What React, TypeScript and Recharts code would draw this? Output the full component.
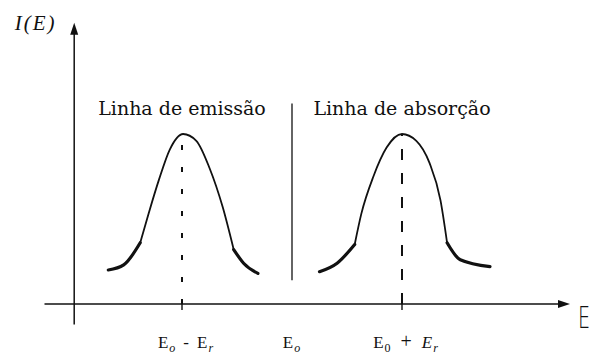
import React from "react";
import {
  ComposedChart,
  Line,
  XAxis,
  YAxis,
  ReferenceLine,
  ReferenceDot,
} from "recharts";

// Energy is measured in units of the recoil energy Er, centred on Eo.
// Intensity is normalised so both line peaks reach 1.

const emissionTailLeft = [
  { e: -1.67, i: 0.2 },
  { e: -1.53, i: 0.23 },
  { e: -1.38, i: 0.36 },
];
const emissionBody = [
  { e: -1.38, i: 0.36 },
  { e: -1.3, i: 0.54 },
  { e: -1.21, i: 0.73 },
  { e: -1.11, i: 0.91 },
  { e: -0.99, i: 1.0 },
  { e: -0.87, i: 0.96 },
  { e: -0.75, i: 0.8 },
  { e: -0.63, i: 0.57 },
  { e: -0.53, i: 0.32 },
];
const emissionTailRight = [
  { e: -0.53, i: 0.32 },
  { e: -0.44, i: 0.24 },
  { e: -0.31, i: 0.18 },
];

const absorptionTailLeft = [
  { e: 0.25, i: 0.19 },
  { e: 0.41, i: 0.24 },
  { e: 0.57, i: 0.35 },
];
const absorptionBody = [
  { e: 0.57, i: 0.35 },
  { e: 0.63, i: 0.53 },
  { e: 0.74, i: 0.75 },
  { e: 0.86, i: 0.92 },
  { e: 1.0, i: 1.0 },
  { e: 1.13, i: 0.96 },
  { e: 1.25, i: 0.83 },
  { e: 1.35, i: 0.61 },
  { e: 1.41, i: 0.36 },
];
const absorptionTailRight = [
  { e: 1.41, i: 0.36 },
  { e: 1.53, i: 0.26 },
  { e: 1.8, i: 0.22 },
];

const energyTicks = [-1, 0, 1];
const lineCentres = [-1, 1];
const lineTitles = ["Linha de emissão", "Linha de absorção"];

const INK = "#111";

const TickLabel = ({ x, y, payload }: any) => {
  const v = payload.value;
  const sub = { fontSize: 12, dy: 4 };
  return (
    <g>
      {v !== 0 && <line x1={x} x2={x} y1={y - 5} y2={y + 6} stroke={INK} strokeWidth={1.4} />}
      <text
        x={x + (v === 0 ? 0 : 4)}
        y={y + 44}
        textAnchor="middle"
        fill={INK}
        fontFamily="Liberation Serif"
        fontSize={17}
        letterSpacing={1}
      >
        {v === -1 && (
          <>
            E<tspan {...sub} fontStyle="italic">o</tspan>
            <tspan dx={7} dy={-4}>-</tspan>
            <tspan dx={7}>E</tspan>
            <tspan {...sub} fontStyle="italic">r</tspan>
          </>
        )}
        {v === 0 && (
          <>
            E<tspan {...sub} fontStyle="italic">o</tspan>
          </>
        )}
        {v === 1 && (
          <>
            E<tspan {...sub}>0</tspan>
            <tspan dx={9} dy={-4} fontSize={20}>+</tspan>
            <tspan dx={9} fontStyle="italic">E</tspan>
            <tspan {...sub} fontStyle="italic">r</tspan>
          </>
        )}
      </text>
    </g>
  );
};

const ArrowRight = ({ cx, cy }: any) => (
  <path d={`M${cx + 3},${cy} L${cx - 9},${cy - 4} L${cx - 9},${cy + 4} Z`} fill={INK} />
);
const ArrowUp = ({ cx, cy }: any) => (
  <path d={`M${cx},${cy} L${cx - 4},${cy + 12} L${cx + 4},${cy + 12} Z`} fill={INK} />
);

const textShape =
  (content: string, attrs: any) =>
  ({ cx, cy }: any) =>
    (
      <text x={cx} y={cy} fill={INK} {...attrs}>
        {content}
      </text>
    );

// hand-lettered axis name, squeezed horizontally
const AxisName = ({ cx, cy }: any) => (
  <g transform={`translate(${cx},${cy}) scale(0.62,1)`}>
    <text x={0} y={0} fill={INK} fontFamily="DejaVu Sans" fontSize={31} fontWeight={300}>
      E
    </text>
  </g>
);

const curve = (data: any[], width: number, key: string) => (
  <Line
    key={key}
    data={data}
    dataKey="i"
    type="monotone"
    stroke={INK}
    strokeWidth={width}
    strokeLinecap="round"
    dot={false}
    activeDot={false}
    isAnimationActive={false}
  />
);

export default function App() {
  return (
    <div style={{ position: "absolute", left: 0, top: 0, background: "#fff" }}>
      <ComposedChart
        width={593}
        height={356}
        margin={{ top: 32, right: 26, bottom: 0, left: 44.5 }}
      >
        <XAxis
          dataKey="e"
          type="number"
          domain={[-2.25, 2.5]}
          ticks={energyTicks}
          allowDataOverflow
          height={52}
          axisLine={{ stroke: INK, strokeWidth: 1.5 }}
          tickLine={false}
          tickSize={0}
          tickMargin={0}
          tick={<TickLabel />}
        />
        <YAxis type="number" domain={[0, 1.6]} hide width={0} allowDataOverflow />

        {/* vertical intensity axis */}
        <ReferenceLine
          segment={[
            { x: -1.98, y: -0.12 },
            { x: -1.98, y: 1.6 },
          ]}
          stroke={INK}
          strokeWidth={1.5}
          ifOverflow="visible"
        />
        <ReferenceDot x={-1.98} y={1.655} r={0} ifOverflow="visible" shape={<ArrowUp />} />
        <ReferenceDot x={2.5} y={0} r={0} ifOverflow="visible" shape={<ArrowRight />} />

        {/* separator between the two lines */}
        <ReferenceLine
          segment={[
            { x: 0, y: 0.14 },
            { x: 0, y: 1.18 },
          ]}
          stroke={INK}
          strokeWidth={1.3}
        />

        {/* line centres */}
        <ReferenceLine
          segment={[
            { x: lineCentres[0], y: 0 },
            { x: lineCentres[0], y: 1 },
          ]}
          stroke={INK}
          strokeWidth={2}
          strokeDasharray="5 17"
        />
        <ReferenceLine
          segment={[
            { x: lineCentres[1], y: 0 },
            { x: lineCentres[1], y: 1 },
          ]}
          stroke={INK}
          strokeWidth={2}
          strokeDasharray="11 13"
        />

        {curve(emissionTailLeft, 3.2, "etl")}
        {curve(emissionBody, 1.8, "eb")}
        {curve(emissionTailRight, 3.2, "etr")}
        {curve(absorptionTailLeft, 3.2, "atl")}
        {curve(absorptionBody, 1.8, "ab")}
        {curve(absorptionTailRight, 3.2, "atr")}

        {lineCentres.map((c, k) => (
          <ReferenceDot
            key={lineTitles[k]}
            x={c}
            y={1.11}
            r={0}
            ifOverflow="visible"
            shape={textShape(lineTitles[k], {
              textAnchor: "middle",
              fontFamily: "DejaVu Serif",
              fontSize: 19,
            })}
          />
        ))}

        <ReferenceDot
          x={-2.14}
          y={1.61}
          r={0}
          ifOverflow="visible"
          shape={textShape("I(E)", {
            textAnchor: "end",
            fontFamily: "Times New Roman",
            fontStyle: "italic",
            fontSize: 21,
            letterSpacing: 2,
          })}
        />
        <ReferenceDot x={2.6} y={-0.14} r={0} ifOverflow="visible" shape={<AxisName />} />
      </ComposedChart>
    </div>
  );
}
